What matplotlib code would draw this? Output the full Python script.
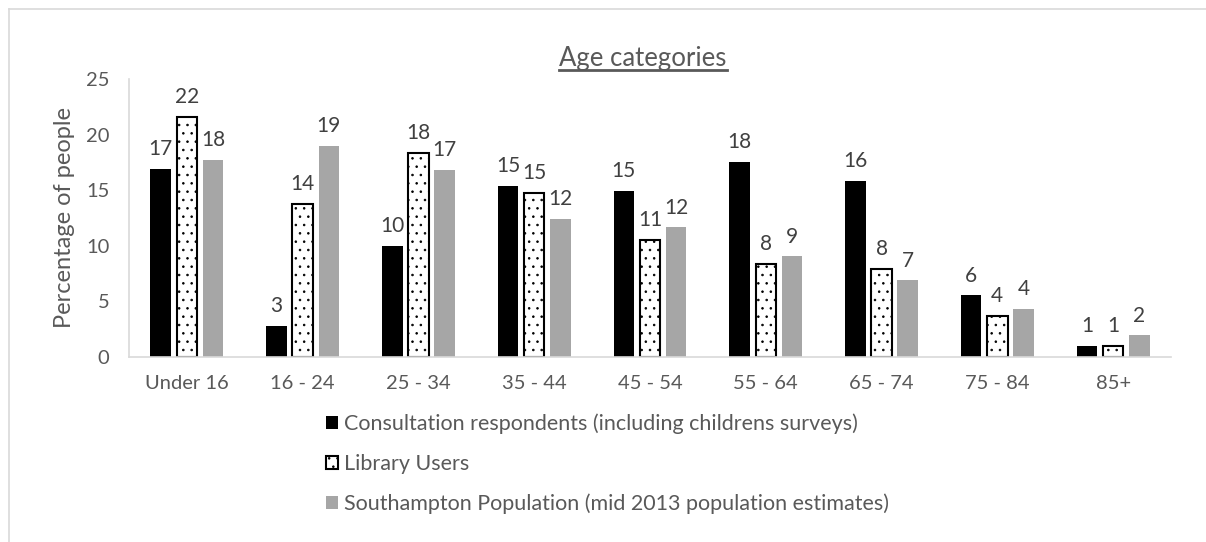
import numpy as np
import matplotlib
matplotlib.use('Agg')
import matplotlib.pyplot as plt
from matplotlib.lines import Line2D

plt.rcParams['font.family'] = ['Lato', 'DejaVu Sans']
plt.rcParams['hatch.linewidth'] = 0.6

# data
categories = ['Under 16', '16 - 24', '25 - 34', '35 - 44', '45 - 54',
              '55 - 64', '65 - 74', '75 - 84', '85+']
consultation = [16.9, 2.8, 10.0, 15.4, 14.95, 17.55, 15.85, 5.55, 1.0]
library = [21.6, 13.75, 18.35, 14.75, 10.55, 8.35, 7.95, 3.7, 1.0]
population = [17.75, 19.0, 16.85, 12.45, 11.65, 9.05, 6.9, 4.3, 1.95]
series_names = ['Consultation respondents (including childrens surveys)',
                'Library Users',
                'Southampton Population (mid 2013 population estimates)']

txt_col = '#595959'
lbl_col = '#404040'
axis_col = '#d9d9d9'

fig = plt.figure(figsize=(12.06, 5.42), dpi=100)
ax = fig.add_axes([129/1206, 1-357/542, (1171-129)/1206, (357-79)/542])

x = np.arange(len(categories))
w = 0.177
off = 0.226

b1 = ax.bar(x - off, consultation, w, color='black', label=series_names[0])
b2 = ax.bar(x, library, w, facecolor='white', edgecolor='black', linewidth=1.5,
            hatch='..', label=series_names[1])
b3 = ax.bar(x + off, population, w, color='#a6a6a6', label=series_names[2])

for bars in (b1, b2, b3):
    ax.bar_label(bars, fmt='%.0f', padding=7, fontsize=15, color=lbl_col)

ax.set_xlim(-0.5, len(categories) - 0.5)
ax.set_ylim(0, 25)
ax.set_yticks([0, 5, 10, 15, 20, 25])
ax.set_xticks(x)
ax.set_xticklabels(categories)
ax.tick_params(axis='both', length=0, labelsize=14.5, colors=txt_col)
ax.tick_params(axis='y', pad=14)
ax.tick_params(axis='x', pad=13)

for s in ['top', 'right']:
    ax.spines[s].set_visible(False)
for s in ['left', 'bottom']:
    ax.spines[s].set_color(axis_col)
    ax.spines[s].set_linewidth(1.2)

ax.set_ylabel('Percentage of people', fontsize=17, color=txt_col, labelpad=8)

# title with underline
title = fig.text(643/1206, 1-66/542, 'Age categories', fontsize=18.5, color=txt_col,
                 ha='center', va='baseline')
fig.canvas.draw()
bb = title.get_window_extent().transformed(fig.transFigure.inverted())
fig.add_artist(Line2D([bb.x0, bb.x1], [1-70/542, 1-70/542], color=txt_col,
                      linewidth=2, transform=fig.transFigure))

leg = fig.legend(loc='upper left', bbox_to_anchor=(315/1206, 1-403/542),
                 frameon=False, fontsize=15.5, labelcolor=txt_col,
                 handlelength=0.55, handleheight=0.55, handletextpad=0.3,
                 labelspacing=0.9, borderpad=0)

# outer chart border (top and left edges visible in crop)
fig.add_artist(Line2D([9/1206, 1], [1-9/542, 1-9/542], color='#d9d9d9',
                      linewidth=1.2, transform=fig.transFigure))
fig.add_artist(Line2D([9/1206, 9/1206], [0, 1-9/542], color='#d9d9d9',
                      linewidth=1.2, transform=fig.transFigure))

plt.savefig('out.png', dpi=100)
plt.close('all')
